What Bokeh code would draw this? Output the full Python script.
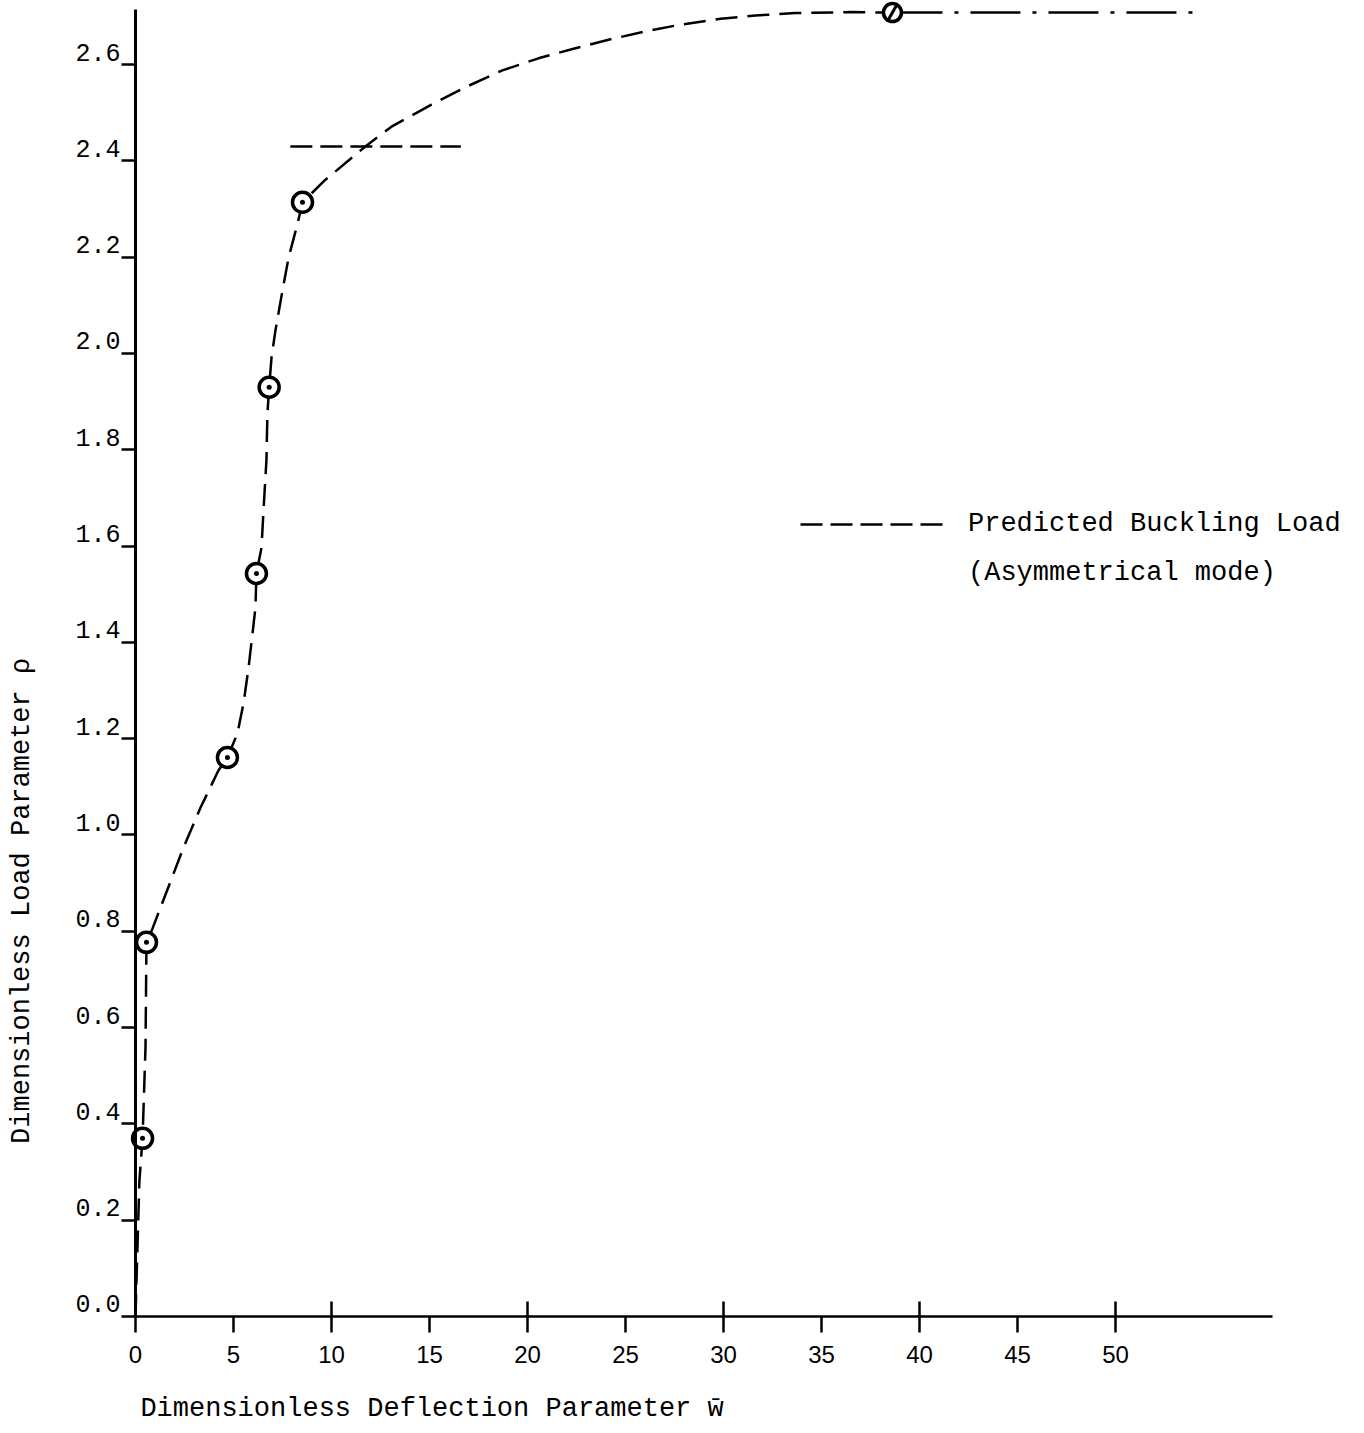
import numpy as np
from bokeh.plotting import figure
from bokeh.models import LinearAxis, FixedTicker, Range1d, Legend, LegendItem
from bokeh.core.properties import value
from bokeh.embed import file_html
from bokeh.resources import INLINE

# ---------------- data ----------------
# measured points (dimensionless deflection w, dimensionless load rho)
point_w = [0.36, 0.56, 4.69, 6.17, 6.82, 8.52, 38.62]
point_rho = [0.370, 0.777, 1.161, 1.543, 1.930, 2.314, 2.708]

# hand-drawn dashed curve through the points
curve_w = [0.0, 0.10, 0.20, 0.36, 0.51, 0.56, 0.87, 2.45, 3.32, 4.23, 4.69,
           5.20, 5.51, 5.77, 6.12, 6.17, 6.43, 6.53, 6.68, 6.73, 6.82, 6.94,
           7.14, 7.50, 7.81, 8.27, 8.52, 9.64, 11.73, 13.06, 15.10, 16.94,
           18.72, 20.56, 22.35, 24.18, 26.02, 27.81, 29.85, 31.63, 33.67,
           36.53, 38.62]
curve_rho = [0.0, 0.143, 0.282, 0.370, 0.559, 0.777, 0.806, 0.974, 1.057,
             1.134, 1.161, 1.211, 1.273, 1.348, 1.472, 1.543, 1.597, 1.674,
             1.778, 1.875, 1.930, 1.992, 2.048, 2.131, 2.199, 2.270, 2.314,
             2.359, 2.430, 2.471, 2.517, 2.555, 2.588, 2.613, 2.633, 2.652,
             2.669, 2.683, 2.695, 2.702, 2.707, 2.709, 2.708]

# dash-dot continuation after the last point
tail_w = [38.62, 54.2]
tail_rho = [2.708, 2.708]

# predicted buckling load (asymmetrical mode)
buckling_w = [7.9, 16.6]
buckling_rho = [2.43, 2.43]

# ticks
x_ticks = [0, 5, 10, 15, 20, 25, 30, 35, 40, 45, 50]
x_major_ticks = [10, 20, 30, 40, 50]
y_ticks = [0.0, 0.2, 0.4, 0.6, 0.8, 1.0, 1.2, 1.4, 1.6, 1.8, 2.0, 2.2, 2.4, 2.6]
y_tick_labels = ["0.0", "0.2", "0.4", "0.6", "0.8", "1.0", "1.2", "1.4",
                 "1.6", "1.8", "2.0", "2.2", "2.4", "2.6"]

x_title = "Dimensionless Deflection Parameter w\u0304"
y_title = "Dimensionless Load Parameter  \u03c1"
legend_label_1 = "Predicted Buckling Load"
legend_label_2 = "(Asymmetrical mode)"

# ---------------- figure ----------------
MONO = "Liberation Mono"
W, H = 1356, 1425

p = figure(width=W, height=H, output_backend="svg", toolbar_location=None,
           x_range=Range1d(-6.888, 62.296), y_range=Range1d(-0.2264, 2.7331),
           x_axis_location=None, y_axis_location=None, min_border=0,
           background_fill_color="white", border_fill_color="white",
           outline_line_color=None)
p.xgrid.visible = False
p.ygrid.visible = False

# axes drawn at the data origin
xaxis = LinearAxis(fixed_location=0, bounds=(0, 58), ticker=FixedTicker(ticks=x_ticks),
                   axis_line_width=2.5, axis_line_color="black",
                   major_tick_in=0, major_tick_out=16, major_tick_line_width=2.5,
                   minor_tick_in=0, minor_tick_out=0,
                   major_label_standoff=14,
                   major_label_text_font="Liberation Sans",
                   major_label_text_font_size="24px",
                   major_label_text_color="black")
p.add_layout(xaxis, "below")

# crossing tick marks at every 10 (minor ticks of an unlabeled axis)
xaxis2 = LinearAxis(fixed_location=0, ticker=FixedTicker(ticks=[], minor_ticks=x_major_ticks),
                    axis_line_color=None, major_tick_in=0, major_tick_out=0,
                    minor_tick_in=15, minor_tick_out=0, minor_tick_line_width=2.5,
                    minor_tick_line_color="black")
p.add_layout(xaxis2, "below")

yaxis = LinearAxis(fixed_location=0, bounds=(0, 2.714),
                   ticker=FixedTicker(ticks=[], minor_ticks=y_ticks),
                   axis_line_width=3, axis_line_color="black",
                   major_tick_in=0, major_tick_out=0,
                   minor_tick_in=0, minor_tick_out=14, minor_tick_line_width=2.5,
                   minor_tick_line_color="black")
p.add_layout(yaxis, "left")

# y tick labels sitting on top of their tick marks (typewriter style)
p.text(x=[0] * len(y_ticks), y=y_ticks, text=y_tick_labels,
       x_offset=-15, y_offset=-4, text_align="right", text_baseline="bottom",
       text_font=value(MONO), text_font_size="25px", text_color="black")

# curves
p.line(curve_w, curve_rho, line_color="black", line_width=2.5, line_dash="22 10")
p.line(tail_w, tail_rho, line_color="black", line_width=2.5, line_dash="50 12 4 12")
buck = p.line(buckling_w, buckling_rho, line_color="black", line_width=2.5, line_dash="22 8")

# points
p.scatter(point_w[:-1], point_rho[:-1], marker="circle_dot", size=20,
          line_color="black", line_width=3.5, fill_color="white")
p.scatter(point_w[-1:], point_rho[-1:], marker="circle", size=18,
          line_color="black", line_width=3.5, fill_color="white")
p.scatter(point_w[-1:], point_rho[-1:], marker="dash", size=15, angle=np.pi / 3,
          line_color="black", line_width=3)

# axis titles
p.text(x=[0.25], y=[-0.1931], text=[x_title], text_align="left",
       text_baseline="middle", text_font=value(MONO), text_font_size="27px",
       text_color="black")
p.text(x=[-5.77], y=[0.88], text=[y_title], angle=np.pi / 2, text_align="center",
       text_baseline="middle", text_font=value(MONO), text_font_size="27px",
       text_color="black")

# legend
blank = p.line(x=[], y=[], line_alpha=0)
legend = Legend(items=[LegendItem(label=legend_label_1, renderers=[buck]),
                       LegendItem(label=legend_label_2, renderers=[blank])],
                location=(800, 837), orientation="vertical",
                glyph_width=145, glyph_height=26, label_height=26,
                label_standoff=23, spacing=19, padding=0, margin=0,
                border_line_color=None, background_fill_alpha=0,
                label_text_font=MONO, label_text_font_size="27px",
                label_text_color="black")
p.add_layout(legend)

open("out.html", "w").write(file_html(p, INLINE))
